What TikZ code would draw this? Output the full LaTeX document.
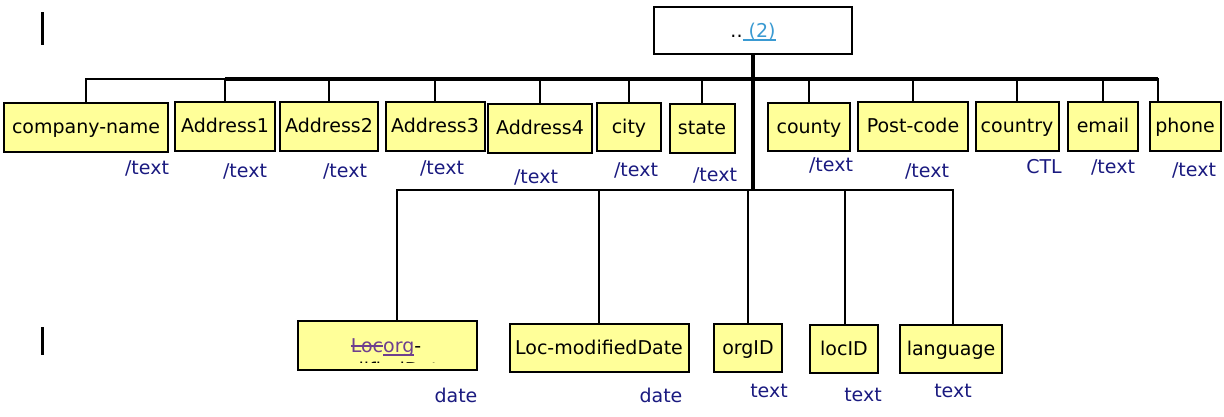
\documentclass[tikz,border=0pt]{standalone}
\usepackage{fontspec}
\setmainfont{DejaVu Sans}
\definecolor{boxyellow}{HTML}{FFFF99}
\definecolor{navy}{HTML}{1A1A80}
\definecolor{linkblue}{HTML}{3A9AD2}
\definecolor{revpurple}{HTML}{6E3F8E}
\newsavebox\myulbox
\newcommand\myuline[1]{\sbox\myulbox{#1}\rlap{\rule[-3.5pt]{\wd\myulbox}{2pt}}\usebox\myulbox}
\newcommand\mysout[1]{\sbox\myulbox{#1}\rlap{\rule[5.5pt]{\wd\myulbox}{2pt}}\usebox\myulbox}
\begin{document}
\begin{tikzpicture}[x=1pt,y=-1pt,
  box/.style={draw=black,line width=2pt,fill=boxyellow,inner sep=0pt,text height=15pt,text depth=3pt,font=\fontsize{19}{22}\selectfont},
  lab/.style={text=navy,inner sep=0pt,font=\fontsize{19}{22}\selectfont},
  conn/.style={line width=2pt},
  trunk/.style={line width=3.5pt},
  cursor/.style={line width=3pt}]
\useasboundingbox (0,0) rectangle (1224,416);

% root
\node[draw=black,line width=2pt,fill=white,inner sep=0pt,minimum width=198,minimum height=47,text height=16pt,text depth=3pt,font=\fontsize{19}{22}\selectfont] (root) at (753,30.5)
  {..\textcolor{linkblue}{\myuline{\ (2)}}};

\coordinate (j1) at (753,79);
\coordinate (j2) at (753,190);

% top row
\node[box,minimum width=164,minimum height=49] (cname) at (86,127.5) {company-name};
\node[box,minimum width=100,minimum height=49] (a1) at (225,126.5) {Address1};
\node[box,minimum width=98,minimum height=49] (a2) at (329,126.5) {Address2};
\node[box,minimum width=99,minimum height=49] (a3) at (435,126.5) {Address3};
\node[box,minimum width=104,minimum height=49] (a4) at (540,128.5) {Address4};
\node[box,minimum width=64,minimum height=48] (city) at (629,127) {city};
\node[box,minimum width=65,minimum height=49] (state) at (702,128.5) {state};
\node[box,minimum width=82,minimum height=48] (county) at (809,127) {county};
\node[box,minimum width=110,minimum height=49] (post) at (913,126.5) {Post-code};
\node[box,minimum width=83,minimum height=49] (country) at (1017,126.5) {country};
\node[box,minimum width=70,minimum height=49] (email) at (1103,126.5) {email};
\node[box,minimum width=71,minimum height=49] (phone) at (1185,126.5) {phone};

% top connectors
\foreach \n in {cname,a1,a2,a3,a4,city,state,county,post,country,email}
  \draw[conn] (\n.north) |- (j1);
\coordinate (phtop) at ([xshift=-27pt]phone.north);
\draw[conn] (phtop) |- (j1);
\draw[trunk] (a1.north |- j1) -- (phtop |- j1);
\draw[trunk] (root.south) -- (j2);

% top labels
\node[lab] (l1) at (147,168) {/text};
\node[lab] (l2) at (245,171) {/text};
\node[lab] (l3) at (345,171) {/text};
\node[lab] (l4) at (442,168) {/text};
\node[lab] (l5) at (536,177) {/text};
\node[lab] (l6) at (636,170) {/text};
\node[lab] (l7) at (715,175) {/text};
\node[lab] (l8) at (831,165) {/text};
\node[lab] (l9) at (927,171) {/text};
\node[lab] (l10) at (1044,167) {CTL};
\node[lab] (l11) at (1113,167) {/text};
\node[lab] (l12) at (1194,170) {/text};

% bottom row
\node[box,minimum width=179,minimum height=49] (locorg) at (387,345.5) {};
\begin{scope}
  \clip (298,322) rectangle (475,362);
  \node[inner sep=0pt,font=\fontsize{19}{22}\selectfont,anchor=base] (locorgt) at (386,352)
    {\textcolor{revpurple}{\mysout{Loc}\myuline{org}}-};
  \node[inner sep=0pt,font=\fontsize{19}{22}\selectfont,anchor=base] (locorgt2) at (386,376) {modifiedDate};
\end{scope}
\node[box,minimum width=179,minimum height=48] (lmd) at (599,348) {Loc-modifiedDate};
\node[box,minimum width=68,minimum height=48] (orgid) at (748,348) {orgID};
\node[box,minimum width=68,minimum height=48] (locid) at (844,349) {locID};
\node[box,minimum width=102,minimum height=48] (lang) at (951,349) {language};

% bottom connectors
\draw[conn] ([xshift=10pt]locorg.north) |- (j2);
\draw[conn] (lmd.north) |- (j2);
\draw[conn] (orgid.north) |- (j2);
\draw[conn] ([xshift=1pt]locid.north) |- (j2);
\draw[conn] ([xshift=2pt]lang.north) |- (j2);

% bottom labels
\node[lab] (b1) at (456,395) {date};
\node[lab] (b2) at (661,395) {date};
\node[lab] (b3) at (769,391) {text};
\node[lab] (b4) at (863,395) {text};
\node[lab] (b5) at (953,391) {text};

% cursor marks
\coordinate (c1a) at (42,12); \coordinate (c1b) at (42,45);
\coordinate (c2a) at (42,327); \coordinate (c2b) at (42,355);
\draw[cursor] (c1a) -- (c1b);
\draw[cursor] (c2a) -- (c2b);
\end{tikzpicture}
\end{document}
